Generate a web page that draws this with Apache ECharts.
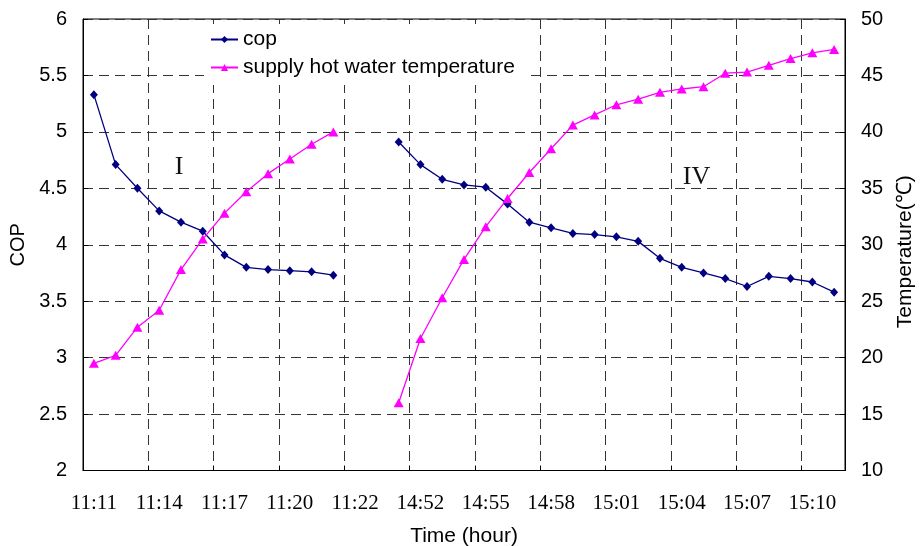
<!DOCTYPE html>
<html>
<head>
<meta charset="utf-8">
<script src="https://cdn.jsdelivr.net/npm/echarts@6/dist/echarts.min.js"></script>
<style>
html,body{margin:0;padding:0;background:#fff;}
#chart{width:920px;height:546px;}
</style>
</head>
<body>
<div id="chart"></div>
<script>
var categories = ['11:11','11:12','11:13','11:14','11:15','11:16','11:17','11:18','11:19','11:20','11:21','11:21','11:22',
  '14:50','14:51','14:52','14:53','14:54','14:55','14:56','14:57','14:58','14:59','15:00','15:01','15:02','15:03','15:04',
  '15:05','15:06','15:07','15:08','15:09','15:10','15:11'];
var copValues = [5.33, 4.71, 4.50, 4.30, 4.20, 4.12, 3.91, 3.80, 3.78, 3.77, 3.76, 3.73, null, null,
  4.91, 4.71, 4.58, 4.53, 4.51, 4.36, 4.20, 4.15, 4.10, 4.09, 4.07, 4.03, 3.88, 3.80, 3.75, 3.70, 3.63, 3.72, 3.70, 3.67, 3.58];
var tempValues = [19.5, 20.2, 22.7, 24.2, 27.8, 30.5, 32.8, 34.7, 36.3, 37.6, 38.9, 40.0, null, null,
  16.0, 21.7, 25.3, 28.7, 31.6, 34.1, 36.4, 38.5, 40.6, 41.5, 42.4, 42.9, 43.5, 43.8, 44.0, 45.2, 45.3, 45.9, 46.5, 47.0, 47.3];
var seriesNames = ['cop', 'supply hot water temperature'];
var stageLabels = [{text: 'I', cat: 4, cop: 4.69, dx: -2}, {text: 'IV', cat: 28, cop: 4.60, dx: -7}];

var chart = echarts.init(document.getElementById('chart'), null, {renderer: 'canvas'});
var sans = 'Arial, "Liberation Sans", sans-serif';
var serif = '"Liberation Serif", "Times New Roman", serif';
var dash = {color: '#333', width: 1, type: [10, 6]};

chart.setOption({
  animation: false,
  backgroundColor: '#fff',
  grid: {left: 83, right: 75, top: 19, bottom: 75.5, show: true, borderColor: '#000', borderWidth: 1,
    containLabel: false, outerBoundsMode: 'none'},
  legend: {
    orient: 'vertical', left: 204, top: 24, itemWidth: 27, itemHeight: 9, itemGap: 7,
    backgroundColor: '#fff', padding: [5, 10, 7, 6],
    textStyle: {fontFamily: sans, fontSize: 21, color: '#000'},
    data: seriesNames
  },
  xAxis: {
    type: 'category', data: categories, boundaryGap: true,
    name: 'Time (hour)', nameLocation: 'middle', nameGap: 55,
    nameTextStyle: {fontFamily: sans, fontSize: 21, color: '#000'},
    axisLine: {lineStyle: {color: '#000', width: 1}},
    axisTick: {show: true, inside: true, interval: 2, length: 5, lineStyle: {color: '#000'}},
    axisLabel: {interval: 2, fontFamily: serif, fontSize: 21, color: '#000', margin: 22},
    splitLine: {show: true, interval: 2, lineStyle: dash}
  },
  yAxis: [{
    type: 'value', min: 2, max: 6, interval: 0.5,
    name: 'COP', nameLocation: 'middle', nameGap: 51,
    nameTextStyle: {fontFamily: sans, fontSize: 20, color: '#000'},
    axisLine: {show: true, lineStyle: {color: '#000', width: 1}},
    axisTick: {show: true, inside: true, length: 5, lineStyle: {color: '#000'}},
    axisLabel: {fontFamily: sans, fontSize: 20, color: '#000', margin: 16},
    splitLine: {show: true, lineStyle: dash}
  }, {
    type: 'value', min: 10, max: 50, interval: 5, position: 'right',
    name: 'Temperature(℃)', nameLocation: 'middle', nameGap: 50,
    nameTextStyle: {fontFamily: sans, fontSize: 21, color: '#000', padding: [0, 14, 0, 0]},
    axisLine: {show: true, lineStyle: {color: '#000', width: 1}},
    axisTick: {show: true, inside: true, length: 5, lineStyle: {color: '#000'}},
    axisLabel: {fontFamily: sans, fontSize: 20, color: '#000', margin: 16},
    splitLine: {show: false}
  }],
  series: [{
    name: seriesNames[0], type: 'line', yAxisIndex: 0, data: copValues,
    symbol: 'diamond', symbolSize: [8, 9], showAllSymbol: true,
    lineStyle: {color: '#000080', width: 1.3}, itemStyle: {color: '#000080'},
    connectNulls: false, z: 3,
    markPoint: {
      symbol: 'rect', symbolSize: 1, itemStyle: {color: 'rgba(0,0,0,0)'},
      label: {show: true, position: 'inside', fontFamily: serif, fontSize: 26, color: '#111', formatter: '{b}'},
      data: stageLabels.map(function (s) {
        return {name: s.text, coord: [s.cat, s.cop], label: {offset: [s.dx, 0]}};
      })
    }
  }, {
    name: seriesNames[1], type: 'line', yAxisIndex: 1, data: tempValues,
    symbol: 'triangle', symbolSize: [10, 9], showAllSymbol: true,
    lineStyle: {color: '#FF00FF', width: 1.3}, itemStyle: {color: '#FF00FF'},
    connectNulls: false, z: 3
  }]
});
</script>
</body>
</html>
